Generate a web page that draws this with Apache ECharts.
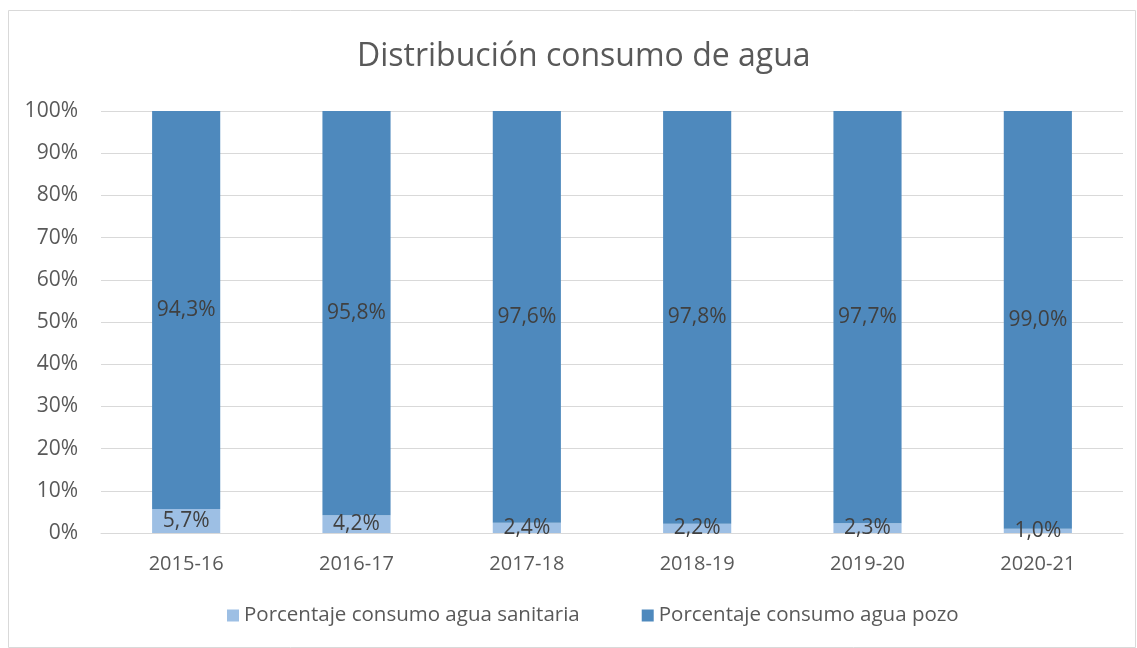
<!DOCTYPE html>
<html><head><meta charset="utf-8">
<script src="https://cdn.jsdelivr.net/npm/echarts@6/dist/echarts.min.js"></script>
<style>html,body{margin:0;padding:0;background:#fff}#c{width:1137px;height:648px}</style>
</head><body><div id="c"></div>
<script>
var categories = ['2015-16','2016-17','2017-18','2018-19','2019-20','2020-21'];
var sanitaria = [5.7, 4.2, 2.4, 2.2, 2.3, 1.0];
var pozo = [94.3, 95.8, 97.6, 97.8, 97.7, 99.0];
var yTicks = [0,10,20,30,40,50,60,70,80,90,100];
var fontFam = '"Open Sans", "Liberation Sans", sans-serif';
var txt = '#595959';
function fmt(v){ return v.toFixed(1).replace('.', ',') + '%'; }
var chart = echarts.init(document.getElementById('c'));
chart.setOption({
  animation:false,
  graphic:[{type:'rect', shape:{x:8.5,y:10.5,width:1127,height:637}, style:{fill:null, stroke:'#d9d9d9', lineWidth:1}, silent:true}],
  title:{text:'Distribución consumo de agua', left:352, top:36, textStyle:{fontFamily:fontFam, fontSize:32, fontWeight:'normal', color:txt}},
  legend:{bottom:17, left:222, itemWidth:12, itemHeight:12, itemGap:62, itemTextGap:4, icon:'rect',
    textStyle:{fontFamily:fontFam, fontSize:20.5, color:txt}},
  grid:{left:101, right:14, top:111, bottom:115, containLabel:false},
  xAxis:{type:'category', data:categories, axisTick:{show:false},
    axisLine:{lineStyle:{color:'#d9d9d9'}},
    axisLabel:{fontFamily:fontFam, fontSize:20, color:txt, margin:21}},
  yAxis:{type:'value', min:0, max:100, interval:10,
    axisLabel:{fontFamily:fontFam, fontSize:21, color:txt, margin:23, formatter:function(v){return v+'%';}},
    splitLine:{lineStyle:{color:'#d9d9d9'}}, axisLine:{show:false}},
  series:[
    {name:'Porcentaje consumo agua sanitaria', type:'bar', stack:'a', data:sanitaria, barWidth:'40%',
     itemStyle:{color:'#9dbfe4'},
     label:{show:true, position:'inside', fontFamily:fontFam, fontSize:21, color:'#404040', formatter:function(p){return fmt(p.value);}}},
    {name:'Porcentaje consumo agua pozo', type:'bar', stack:'a', data:pozo, barWidth:'40%',
     itemStyle:{color:'#4e89bd'},
     label:{show:true, position:'inside', fontFamily:fontFam, fontSize:21, color:'#404040', formatter:function(p){return fmt(p.value);}}}
  ]
});
</script></body></html>
